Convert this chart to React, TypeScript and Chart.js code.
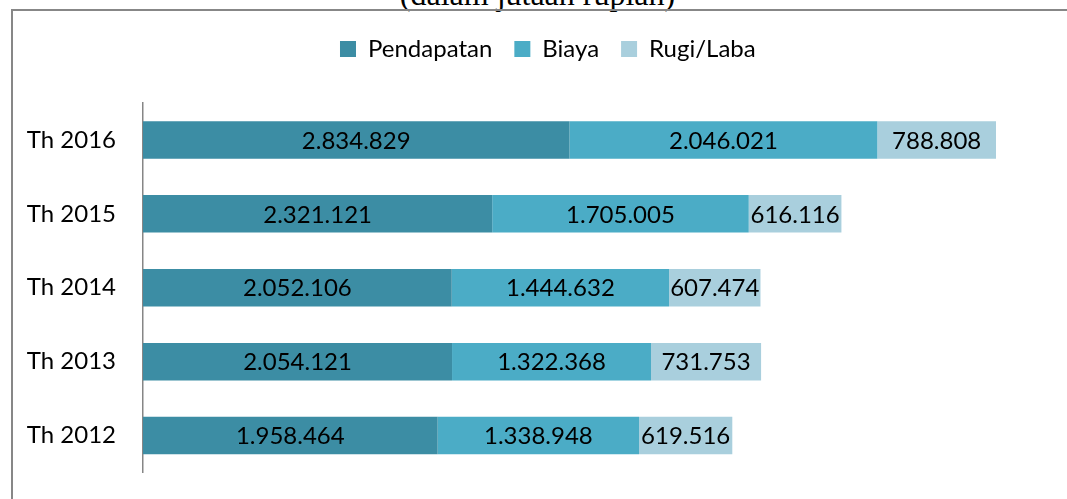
import { useEffect, useRef } from "react";
import { Chart, registerables } from "chart.js";

Chart.register(...registerables);

const categories = ["Th 2016", "Th 2015", "Th 2014", "Th 2013", "Th 2012"];
const pendapatan = [2834829, 2321121, 2052106, 2054121, 1958464];
const biaya = [2046021, 1705005, 1444632, 1322368, 1338948];
const rugiLaba = [788808, 616116, 607474, 731753, 619516];
const seriesNames = ["Pendapatan", "Biaya", "Rugi/Laba"];
const seriesColors = ["#3C8DA4", "#4BACC6", "#A9CFDD"];
const xMax = 6000000;
const titleText = "(dalam jutaan rupiah)";

const FONT = "Lato";
const FONT_SIZE = 24;
const AXIS_RIGHT_EDGE = 143;
const LAYOUT_TOP = 15;
const PLOT_TOP = 103;
const LEGEND_SHIFT = 25;
const LEGEND_PAD = 22;

function fmt(v: number): string {
  return String(v).replace(/\B(?=(\d{3})+(?!\d))/g, ".");
}

const valueLabels = {
  id: "valueLabels",
  afterDatasetsDraw(chart: any) {
    const ctx = chart.ctx;
    ctx.save();
    ctx.font = `${FONT_SIZE}px ${FONT}`;
    ctx.fillStyle = "#000";
    ctx.textAlign = "center";
    ctx.textBaseline = "middle";
    chart.data.datasets.forEach((ds: any, i: number) => {
      const meta = chart.getDatasetMeta(i);
      meta.data.forEach((el: any, j: number) => {
        const p = el.getProps(["x", "base", "y"], true);
        ctx.fillText(fmt(ds.data[j]), (p.x + p.base) / 2, p.y + 1);
      });
    });
    ctx.restore();
  },
};

const legendSpacer = {
  id: "legendSpacer",
  beforeInit(chart: any) {
    const legend = chart.legend;
    if (!legend) return;
    const orig = legend.fit;
    legend.fit = function () {
      orig.call(this);
      this.height = PLOT_TOP - LAYOUT_TOP;
    };
  },
  afterLayout(chart: any) {
    const legend = chart.legend;
    if (!legend) return;
    legend.left += LEGEND_SHIFT;
    legend.right += LEGEND_SHIFT;
  },
};

export default function App() {
  const ref = useRef<HTMLCanvasElement | null>(null);

  useEffect(() => {
    if (!ref.current) return;
    const data = [pendapatan, biaya, rugiLaba];
    const chart = new Chart(ref.current, {
      type: "bar",
      data: {
        labels: categories,
        datasets: seriesNames.map((name, i) => ({
          label: name,
          data: data[i],
          backgroundColor: seriesColors[i],
          borderWidth: 0,
          categoryPercentage: 1,
          barPercentage: 0.507,
        })),
      },
      options: {
        indexAxis: "y",
        animation: false,
        responsive: false,
        devicePixelRatio: 1,
        layout: {
          padding: { left: 0, right: 21.3, top: LAYOUT_TOP, bottom: 26.5 },
        },
        scales: {
          x: {
            stacked: true,
            display: false,
            min: 0,
            max: xMax,
          },
          y: {
            stacked: true,
            grid: { display: false, drawTicks: false },
            border: { display: true, color: "#868686", width: 1.5 },
            ticks: {
              color: "#000",
              padding: 27,
              font: { family: FONT, size: FONT_SIZE },
            },
            afterFit(scale: any) {
              scale.width = AXIS_RIGHT_EDGE;
              scale.paddingTop = 0;
              scale.paddingBottom = 0;
            },
          },
        },
        plugins: {
          legend: {
            position: "top",
            labels: {
              color: "#000",
              boxWidth: 16,
              boxHeight: 16,
              padding: LEGEND_PAD,
              font: { family: FONT, size: FONT_SIZE },
            },
          },
          tooltip: { enabled: false },
        },
      },
      plugins: [valueLabels, legendSpacer],
    });
    return () => chart.destroy();
  }, []);

  return (
    <div
      style={{
        position: "absolute",
        left: 0,
        top: 0,
        width: 1067,
        height: 499,
        overflow: "hidden",
        background: "#fff",
      }}
    >
      <div
        style={{
          position: "absolute",
          left: 4,
          top: -22,
          width: 1067,
          textAlign: "center",
          fontFamily: "'Liberation Serif', serif",
          fontSize: 32,
          lineHeight: "32px",
          color: "#000",
          whiteSpace: "nowrap",
        }}
      >
        {titleText}
      </div>
      <div
        style={{
          position: "absolute",
          left: 11,
          top: 9,
          width: 1100,
          height: 600,
          borderTop: "2px solid #878787",
          borderLeft: "2px solid #878787",
        }}
      />
      <canvas
        ref={ref}
        width={1067}
        height={499}
        style={{ position: "absolute", left: 0, top: 0, width: 1067, height: 499 }}
      />
    </div>
  );
}
